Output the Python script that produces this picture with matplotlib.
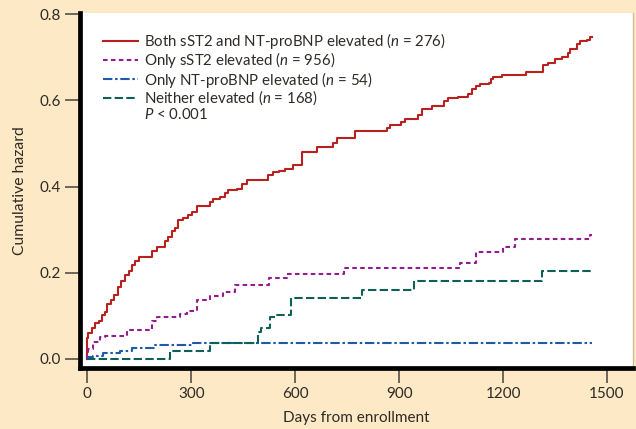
import matplotlib
matplotlib.use("Agg")
import matplotlib.pyplot as plt
from matplotlib.lines import Line2D

# ---- data ----
both_days = [0, 0, 3, 13, 22, 35, 42, 51, 58, 68, 77, 89, 96, 109, 121, 128, 138, 150,
             186, 200, 224, 234, 244, 253, 263, 276, 291, 302, 317, 354, 363, 383, 398,
             406, 432, 447, 461, 522, 536, 553, 570, 594, 620, 663, 710, 721, 773, 865,
             874, 906, 917, 955, 966, 995, 1030, 1041, 1070, 1099, 1110, 1122, 1134, 1160,
             1165, 1171, 1197, 1267, 1315, 1330, 1350, 1370, 1388, 1393, 1414, 1422, 1442,
             1451, 1457]
both_haz = [0.0, 0.049, 0.060, 0.072, 0.084, 0.088, 0.102, 0.110, 0.128, 0.137, 0.149, 0.168,
            0.180, 0.195, 0.203, 0.219, 0.228, 0.236, 0.250, 0.261, 0.273, 0.284, 0.296,
            0.305, 0.323, 0.328, 0.335, 0.342, 0.354, 0.365, 0.372, 0.377, 0.386, 0.393,
            0.395, 0.405, 0.416, 0.426, 0.433, 0.437, 0.440, 0.451, 0.481, 0.492, 0.502,
            0.513, 0.528, 0.537, 0.542, 0.549, 0.556, 0.567, 0.581, 0.588, 0.598, 0.605,
            0.609, 0.614, 0.626, 0.633, 0.639, 0.641, 0.650, 0.655, 0.660, 0.667, 0.683,
            0.688, 0.697, 0.702, 0.711, 0.720, 0.730, 0.737, 0.741, 0.748, 0.748]

sst2_days = [0, 0, 2, 17, 37, 51, 115, 187, 201, 268, 288, 317, 354, 392, 426, 524, 576,
             740, 1077, 1122, 1200, 1235, 1451, 1457]
sst2_haz = [0.0, 0.015, 0.022, 0.040, 0.050, 0.054, 0.067, 0.087, 0.098, 0.105, 0.112,
            0.136, 0.146, 0.156, 0.172, 0.187, 0.198, 0.212, 0.223, 0.249, 0.260, 0.279,
            0.288, 0.288]

bnp_days = [0, 2, 17, 45, 95, 129, 195, 305, 1457]
bnp_haz = [0.0, 0.004, 0.008, 0.014, 0.019, 0.026, 0.033, 0.038, 0.038]

neither_days = [0, 239, 354, 493, 502, 528, 545, 588, 793, 943, 1312, 1457]
neither_haz = [0.0, 0.018, 0.038, 0.062, 0.072, 0.097, 0.103, 0.141, 0.160, 0.180, 0.205, 0.205]

group_names = ["Both sST2 and NT-proBNP elevated", "Only sST2 elevated",
               "Only NT-proBNP elevated", "Neither elevated"]
group_n = [276, 956, 54, 168]
p_text = "$P$ < 0.001"

x_ticks = [0, 300, 600, 900, 1200, 1500]
y_ticks = [0.0, 0.2, 0.4, 0.6, 0.8]

# ---- style ----
FONT = "Lato"
plt.rcParams["font.family"] = [FONT, "DejaVu Sans"]
plt.rcParams["mathtext.fontset"] = "custom"
plt.rcParams["mathtext.it"] = FONT + ":italic"
plt.rcParams["mathtext.rm"] = FONT
TXT = "#2e2a26"
BG = "#fde9c5"

fig = plt.figure(figsize=(6.36, 4.29), dpi=100, facecolor=BG)
ax = fig.add_axes([80 / 636, 1 - 368 / 429, (633 - 80) / 636, (368 - 13) / 429])
ax.set_facecolor("white")

colors = ["#b8211e", "#931c8f", "#1f5aa6", "#0e5f55"]
styles = ["-", (0, (2.2, 1.6)), (0, (4.5, 1.3, 1.2, 1.3)), (0, (4.0, 1.6))]
series = [(both_days, both_haz), (sst2_days, sst2_haz), (bnp_days, bnp_haz),
          (neither_days, neither_haz)]
handles = []
for (d, h), c, ls, name, n in zip(series, colors, styles, group_names, group_n):
    ln, = ax.step(d, h, where="post", color=c, lw=1.5, linestyle=ls,
                  label=f"{name} ($n$ = {n})")
    handles.append(ln)

handles.append(Line2D([], [], color="none"))
labels = [h.get_label() for h in handles[:4]] + [p_text]
leg = ax.legend(handles, labels, loc="upper left", bbox_to_anchor=(0.0416, 0.949),
                frameon=False, fontsize=10.8, handlelength=2.35, handletextpad=0.4,
                labelspacing=-0.05, borderaxespad=0, borderpad=0, labelcolor=TXT)

ax.set_xlim(-21, 1575)
ax.set_ylim(-0.021, 0.803)
ax.set_xticks(x_ticks)
ax.set_yticks(y_ticks)
ax.set_yticklabels([f"{v:.1f}" for v in y_ticks])
ax.tick_params(direction="out", length=11, width=1.2, color="#555049",
               labelsize=11, labelcolor=TXT, pad=3)

for s in ["left", "bottom"]:
    ax.spines[s].set_linewidth(3.4)
    ax.spines[s].set_color("black")
ax.spines["top"].set_visible(False)
ax.spines["right"].set_color("#cdbd9e")
ax.spines["right"].set_linewidth(1.0)

ax.set_xlabel("Days from enrollment", fontsize=11, color=TXT, labelpad=7)
ax.set_ylabel("Cumulative hazard", fontsize=11.3, color=TXT, labelpad=8.5)

fig.savefig("out.png", dpi=100, facecolor=BG)
